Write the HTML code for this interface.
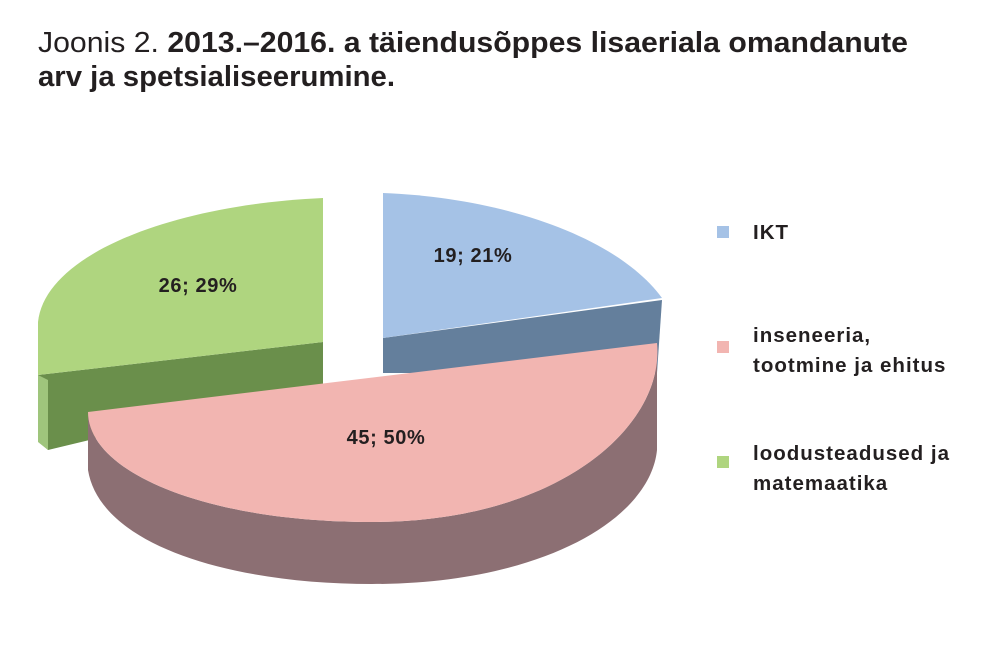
<!DOCTYPE html>
<html><head><meta charset="utf-8"><style>
html,body{margin:0;padding:0;background:#fff;}
svg{display:block;}
text{font-family:"Liberation Sans",sans-serif;fill:#231f20;}
</style></head><body>
<svg width="1000" height="651" viewBox="0 0 1000 651" xmlns="http://www.w3.org/2000/svg">
<text x="38" y="52" font-size="29" textLength="870" lengthAdjust="spacingAndGlyphs"><tspan>Joonis 2. </tspan><tspan font-weight="bold">2013.–2016. a täiendusõppes lisaeriala omandanute</tspan></text>
<text x="38" y="86" font-size="29" font-weight="bold" textLength="357" lengthAdjust="spacingAndGlyphs">arv ja spetsialiseerumine.</text>

<!-- green slice -->
<path d="M38,375 L323,342 L323,384 L48,450 L38,440 Z" fill="#6a8f4b"/>
<path d="M38,375 L48,380 L48,450 L38,442 Z" fill="#9fc57c"/>
<path d="M323,198 L323,342 L38,375 L38,322 C45,255 170,205 323,198 Z" fill="#afd57f"/>

<!-- blue slice -->
<path d="M383,338 L662,300 L657,373 L383,373 Z" fill="#647f9c"/>
<path d="M383,193 C510,198 620,240 662,298 L383,338 Z" fill="#a5c2e6"/>

<!-- pink slice -->
<path d="M88,412 L88,470 C100,545 230,584 372,584 C540,584 650,520 657,450 L657,343 C665,425 560,522 372,522 C205,522 88,472 88,412 Z" fill="#8c6f73"/>
<path d="M88,412 L657,343 C665,425 560,522 372,522 C205,522 88,472 88,412 Z" fill="#f2b5b1"/>

<g font-size="20" font-weight="bold" letter-spacing="0.6" text-anchor="middle">
<text x="473" y="262">19; 21%</text>
<text x="198" y="292">26; 29%</text>
<text x="386" y="444">45; 50%</text>
</g>

<rect x="717" y="226" width="12" height="12" fill="#a5c2e6"/>
<rect x="717" y="341" width="12" height="12" fill="#f2b5b1"/>
<rect x="717" y="456" width="12" height="12" fill="#afd57f"/>
<g font-size="20.5" font-weight="bold" letter-spacing="1">
<text x="753" y="239">IKT</text>
<text x="753" y="342">inseneeria,</text>
<text x="753" y="372">tootmine ja ehitus</text>
<text x="753" y="460">loodusteadused ja</text>
<text x="753" y="490">matemaatika</text>
</g>
</svg>
</body></html>
